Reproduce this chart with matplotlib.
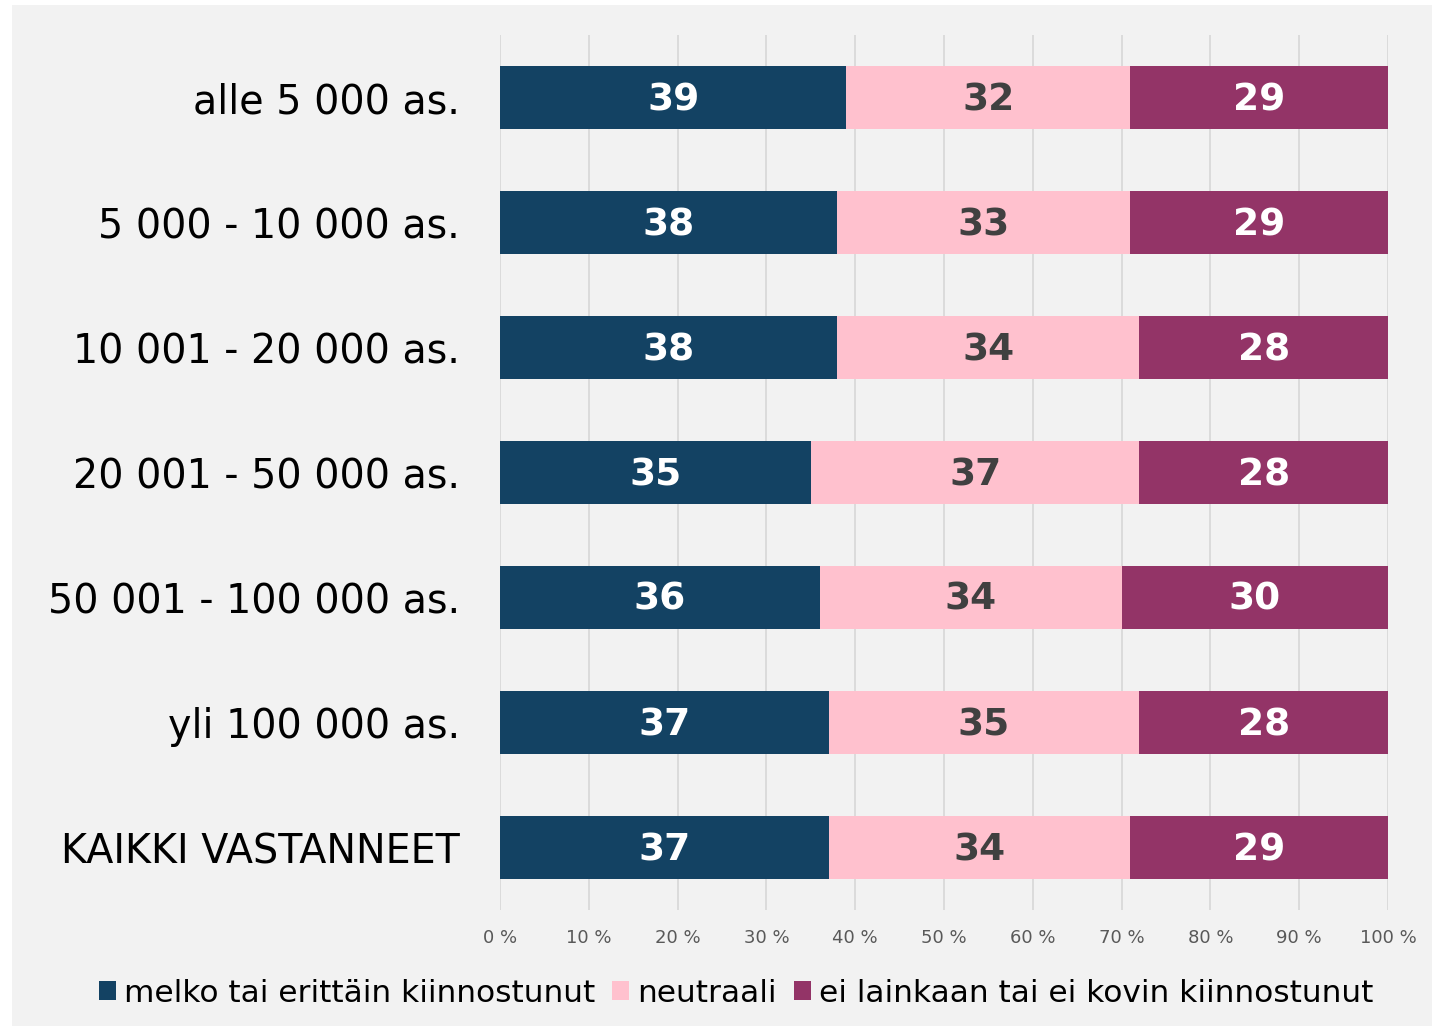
import numpy as np
import matplotlib.pyplot as plt
from matplotlib.patches import Rectangle

# 데이터
categories = ['alle 5 000 as.', '5 000 - 10 000 as.', '10 001 - 20 000 as.',
              '20 001 - 50 000 as.', '50 001 - 100 000 as.', 'yli 100 000 as.',
              'KAIKKI VASTANNEET']
kiinnostunut = [39, 38, 38, 35, 36, 37, 37]
neutraali = [32, 33, 34, 37, 34, 35, 34]
ei_kiinnostunut = [29, 29, 28, 28, 30, 28, 29]
series_names = ['melko tai erittäin kiinnostunut', 'neutraali',
                'ei lainkaan tai ei kovin kiinnostunut']
xticks = [0, 10, 20, 30, 40, 50, 60, 70, 80, 90, 100]

colors = ['#134263', '#FFC1CE', '#933467']
label_colors = ['white', '#404040', 'white']

plt.rcParams['font.family'] = ['DejaVu Sans']

fig = plt.figure(figsize=(14.32, 10.26), dpi=100)
fig.patch.set_facecolor('white')
# 회색 배경 패널
bg = Rectangle((12 / 1432, 0), 1, 1 - 5 / 1026, transform=fig.transFigure,
               facecolor='#F2F2F2', edgecolor='none', zorder=-10)
fig.add_artist(bg)

ax = fig.add_axes([500 / 1432, 1 - 910 / 1026, 888 / 1432, 875 / 1026])
ax.patch.set_alpha(0)

y = np.arange(len(categories))
left = np.zeros(len(categories))
all_series = [kiinnostunut, neutraali, ei_kiinnostunut]
for vals, name, col, lcol in zip(all_series, series_names, colors, label_colors):
    vals = np.array(vals, dtype=float)
    ax.barh(y, vals, left=left, height=0.5, color=col, label=name, zorder=2)
    for yi, l, v in zip(y, left, vals):
        ax.text(l + v / 2, yi + 0.02, f'{int(v)}', ha='center', va='center',
                color=lcol, fontsize=27, fontweight='bold', zorder=3)
    left += vals

ax.set_xlim(0, 100)
ax.set_ylim(len(categories) - 0.5, -0.5)
ax.set_xticks(xticks)
ax.set_xticklabels([f'{t} %' for t in xticks], color='#595959', fontsize=13)
ax.set_yticks(y)
ax.set_yticklabels(categories, fontsize=28.5, color='black')
ax.tick_params(axis='x', length=0, pad=14)
ax.tick_params(axis='y', length=0, pad=29)
ax.grid(axis='x', color='#D9D9D9', linewidth=1.3, zorder=1)
ax.set_axisbelow(True)
for s in ax.spines.values():
    s.set_visible(False)

leg = fig.legend(loc='center', bbox_to_anchor=(736 / 1432, 1 - 993 / 1026), ncol=3,
                 frameon=False, fontsize=22.5, handlelength=0.55, handleheight=0.55,
                 handletextpad=0.25, columnspacing=0.55)

fig.savefig('out.png', dpi=100, facecolor=fig.get_facecolor())
